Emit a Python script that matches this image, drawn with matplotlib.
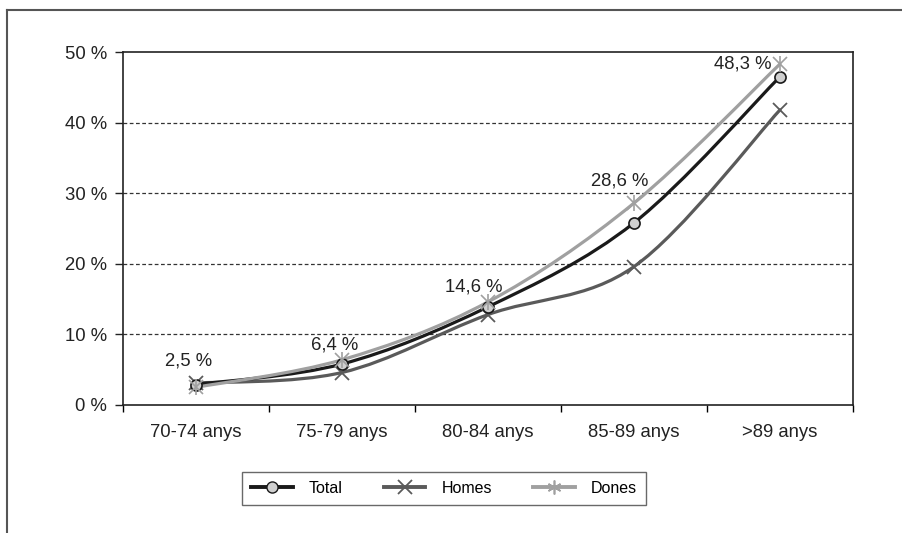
import matplotlib.pyplot as plt
import numpy as np
from matplotlib.path import Path
from matplotlib.patches import PathPatch
from matplotlib.lines import Line2D

plt.rcParams['font.family'] = ['Liberation Sans', 'DejaVu Sans']

# --- dades
grups = ['70-74 anys', '75-79 anys', '80-84 anys', '85-89 anys', '>89 anys']
total = [2.9, 5.8, 13.9, 25.8, 46.5]
homes = [3.1, 4.6, 12.8, 19.6, 41.8]
dones = [2.5, 6.4, 14.6, 28.6, 48.3]
etiquetes = ['2,5 %', '6,4 %', '14,6 %', '28,6 %', '48,3 %']

# offsets (punts) de les etiquetes de dones
offs = [(-5, 19), (-5, 11), (-10, 11), (-10, 16), (-27, 0)]


def corba_suau(ax, xs, ys, color, lw, z):
    # línia suavitzada tipus Excel (Catmull-Rom -> Bezier cúbica)
    p = np.column_stack([xs, ys]).astype(float)
    ext = np.vstack([p[0], p, p[-1]])
    verts = [tuple(p[0])]
    codes = [Path.MOVETO]
    for i in range(1, len(ext) - 2):
        p0, p1, p2, p3 = ext[i - 1], ext[i], ext[i + 1], ext[i + 2]
        c1 = p1 + (p2 - p0) / 6.0
        c2 = p2 - (p3 - p1) / 6.0
        verts += [tuple(c1), tuple(c2), tuple(p2)]
        codes += [Path.CURVE4] * 3
    patch = PathPatch(Path(verts, codes), fill=False, edgecolor=color,
                      lw=lw, capstyle='round', joinstyle='round', zorder=z)
    ax.add_patch(patch)


fig = plt.figure(figsize=(9.03, 5.33), dpi=100)
ax = fig.add_axes([0.1362, 0.2402, 0.8084, 0.6622])

x = np.arange(len(grups))

c_total = '#1a1a1a'
c_homes = '#5a5a5a'
c_dones = '#a0a0a0'
lw = 2.3
fs = 13.3

corba_suau(ax, x, homes, c_homes, lw, 3)
corba_suau(ax, x, total, c_total, lw, 4)
corba_suau(ax, x, dones, c_dones, lw, 5)

ax.plot(x, homes, ls='none', marker='x', ms=10, mew=1.3, color=c_homes, zorder=6)
ax.plot(x, total, ls='none', marker='o', ms=8, mfc='#d0d0d0', mec=c_total, mew=1.2, zorder=7)
ax.plot(x, dones, ls='none', marker='x', ms=10, mew=1.2, color=c_dones, zorder=8)
ax.plot(x, dones, ls='none', marker='|', ms=12, mew=1.2, color=c_dones, zorder=8)

for xi, yi, txt, off in zip(x, dones, etiquetes, offs):
    ax.annotate(txt, (xi, yi), xytext=off, textcoords='offset points',
                ha='center', va='center', fontsize=fs, color='#222222')

ax.set_xlim(-0.5, len(grups) - 0.5)
ax.set_ylim(0, 50)
ax.set_yticks(range(0, 51, 10))
ax.set_yticklabels([f'{v} %' for v in range(0, 51, 10)])
ax.set_xticks(x)
ax.set_xticklabels(grups)
ax.set_xticks(np.arange(-0.5, len(grups), 1), minor=True)
ax.tick_params(axis='x', which='major', length=0, pad=14, labelsize=fs, colors='#222222')
ax.tick_params(axis='x', which='minor', length=5, width=1, direction='out')
ax.tick_params(axis='y', length=5.5, width=1, direction='out', pad=6, labelsize=fs, colors='#222222')

for v in range(10, 50, 10):
    ax.axhline(v, color='#333333', lw=0.9, ls=(0, (3, 2)), zorder=1)

for s in ax.spines.values():
    s.set_color('#222222')
    s.set_linewidth(1.2)

handles = [
    Line2D([], [], color=c_total, lw=lw + 0.5, marker='o', ms=8, mfc='#d0d0d0', mec=c_total),
    Line2D([], [], color=c_homes, lw=lw + 0.5, marker='x', ms=10, mew=1.3),
    Line2D([], [], color=c_dones, lw=lw + 0.5, marker=(6, 2, 0), ms=10, mew=1.2),
]
leg = fig.legend(handles, ['Total', 'Homes', 'Dones'], loc='center',
                 bbox_to_anchor=(0.4917, 0.0835), ncol=3, frameon=True,
                 fancybox=False, fontsize=11.5, handlelength=2.6,
                 columnspacing=2.6, handletextpad=1.0, borderpad=0.55)
leg.get_frame().set_edgecolor('#444444')
leg.get_frame().set_linewidth(1.0)

# marc exterior del gràfic
fig.add_artist(Line2D([7 / 903, 1], [1 - 10 / 533] * 2, transform=fig.transFigure,
                      color='#555555', lw=1.5))
fig.add_artist(Line2D([7 / 903] * 2, [0, 1 - 10 / 533], transform=fig.transFigure,
                      color='#555555', lw=1.5))

fig.savefig('out.png', dpi=100)
